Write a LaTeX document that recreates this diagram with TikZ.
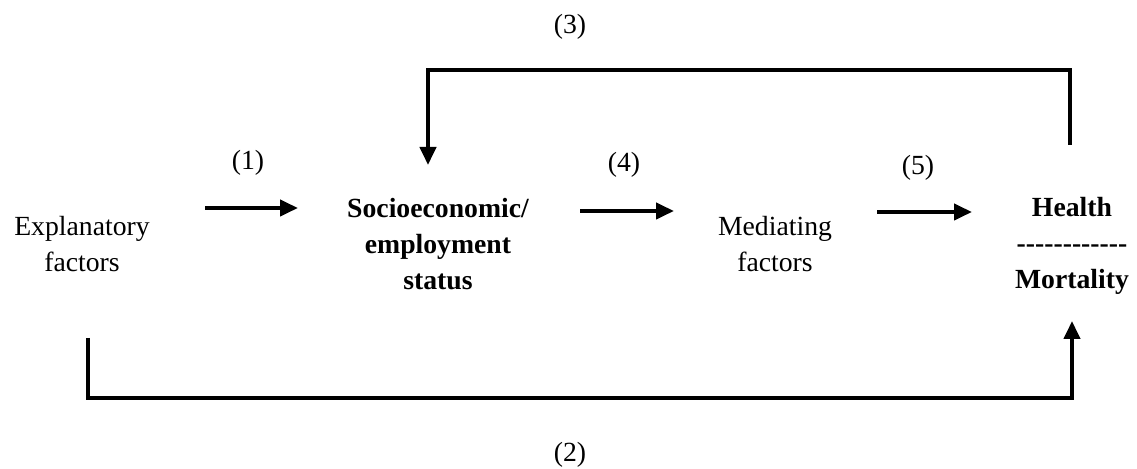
\documentclass[tikz,border=0pt]{standalone}
\usepackage{fontspec}
\setmainfont{Liberation Serif}
\usetikzlibrary{arrows.meta}
\tikzset{>={Triangle[length=9pt,width=8pt]}}
\tikzset{txt/.style={font=\fontsize{13.85}{18}\selectfont, align=center, inner sep=0pt}}
\tikzset{bold txt/.style={txt, font=\fontsize{13.85}{18}\selectfont\bfseries}}

\begin{document}
\begin{tikzpicture}[x=0.5pt, y=-0.5pt, line width=2pt]
            \useasboundingbox (0,0) rectangle (1137,469);

            \node [txt] (expl) at (82,244) {Explanatory\\factors};
            \node [bold txt] (ses) at (438,244) {Socioeconomic/\\employment\\status};
            \node [txt] (med) at (775,244) {Mediating\\factors};
            \node [bold txt] (hm) at (1072,246) {Health\\{-}{-}{-}{-}{-}{-}{-}{-}{-}{-}{-}{-}\\Mortality};

            \node [txt] (n1) at (248,163) {(1)};
            \node [txt] (n4) at (624,165) {(4)};
            \node [txt] (n5) at (918,168) {(5)};
            \node [txt] (n3) at (570,27) {(3)};
            \node [txt] (n2) at (570,455) {(2)};

            \coordinate (a1s) at (205,208);
            \coordinate (a1e) at (298,208);
            \coordinate (a4s) at (580,211);
            \coordinate (a4e) at (674,211);
            \coordinate (a5s) at (877,212);
            \coordinate (a5e) at (972,212);
            \coordinate (l3s) at (1070,145);
            \coordinate (l3e) at (428,165);
            \coordinate (l2s) at (88,338);
            \coordinate (l2e) at (1072,321);

            \draw[->] (a1s) -- (a1e);
            \draw[->] (a4s) -- (a4e);
            \draw[->] (a5s) -- (a5e);
            \draw[->] (l3s) -- ++(0,-75) -| (l3e);
            \draw[->] (l2s) -- ++(0,60) -| (l2e);
        \end{tikzpicture}
\end{document}
